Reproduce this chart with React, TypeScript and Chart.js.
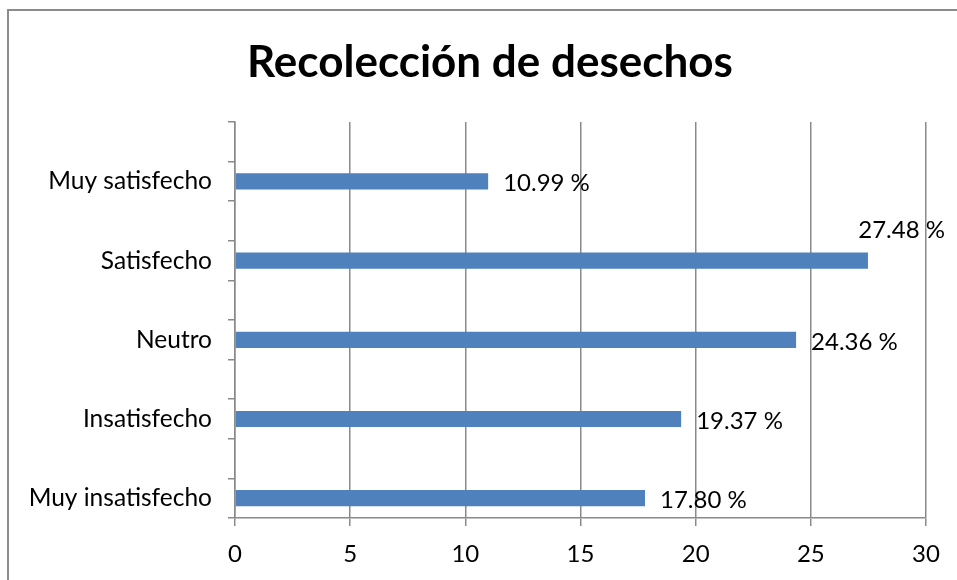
import React, { useEffect, useRef } from "react";
import { Chart, registerables } from "chart.js";

Chart.register(...registerables);

const TITLE = "Recolección de desechos";
const categories = ["Muy satisfecho", "Satisfecho", "Neutro", "Insatisfecho", "Muy insatisfecho"];
const percentages = [10.99, 27.48, 24.36, 19.37, 17.8];
const xTicks = [0, 5, 10, 15, 20, 25, 30];

const FONT = "Lato";
const GRID = "#8a8a8a";

const labels: string[] = [];
const values: (number | null)[] = [];
categories.forEach((c, i) => {
  labels.push("");
  values.push(null);
  labels.push(c);
  values.push(percentages[i]);
});

const titlePlugin = {
  id: "customTitle",
  afterDraw(chart: any) {
    const ctx = chart.ctx;
    ctx.save();
    ctx.font = `bold 44px ${FONT}`;
    ctx.fillStyle = "#000";
    ctx.textAlign = "center";
    ctx.textBaseline = "middle";
    ctx.fillText(TITLE, 490, 63);
    ctx.restore();
  },
};

const valueLabels = {
  id: "valueLabels",
  afterDatasetsDraw(chart: any) {
    const ctx = chart.ctx;
    const meta = chart.getDatasetMeta(0);
    ctx.save();
    ctx.font = `24px ${FONT}`;
    ctx.fillStyle = "#000";
    ctx.textBaseline = "middle";
    meta.data.forEach((bar: any, i: number) => {
      const v = values[i];
      if (v == null) return;
      const text = v.toFixed(2) + " %";
      const w = ctx.measureText(text).width;
      let x = bar.x + 15;
      let y = bar.y + 2;
      if (x + w > chart.width - 10) {
        x = chart.width - 12 - w;
        y = bar.y - 30;
      }
      ctx.textAlign = "left";
      ctx.fillText(text, x, y);
    });
    ctx.restore();
  },
};

export default function App() {
  const ref = useRef<HTMLCanvasElement | null>(null);
  useEffect(() => {
    if (!ref.current) return;
    const chart = new Chart(ref.current, {
      type: "bar",
      data: {
        labels,
        datasets: [
          {
            data: values as any,
            backgroundColor: "#4f81bd",
            borderWidth: 0,
            categoryPercentage: 1,
            barPercentage: 0.41,
          },
        ],
      },
      options: {
        indexAxis: "y",
        animation: false,
        responsive: false,
        layout: { padding: { top: 122, right: 31, bottom: 0, left: 0 } },
        plugins: {
          legend: { display: false },
          title: { display: false },
          tooltip: { enabled: false },
        },
        scales: {
          x: {
            min: 0,
            max: 30,
            afterBuildTicks(scale: any) {
              scale.ticks = xTicks.map((v) => ({ value: v }));
            },
            afterFit(scale: any) {
              scale.height = 62;
            },
            grid: {
              color: GRID,
              lineWidth: 1.5,
              tickLength: 8,
              drawTicks: true,
            },
            border: { color: GRID, width: 1.5 },
            ticks: {
              color: "#000",
              font: { family: FONT, size: 24 },
              padding: 14,
              maxRotation: 0,
            },
          },
          y: {
            offset: true,
            afterFit(scale: any) {
              scale.width = 235;
            },
            grid: {
              offset: true,
              drawOnChartArea: false,
              drawTicks: true,
              tickLength: 7,
              color: GRID,
              lineWidth: 1.5,
            },
            border: { color: GRID, width: 1.5 },
            ticks: {
              color: "#000",
              font: { family: FONT, size: 24.5 },
              padding: 16,
              autoSkip: false,
            },
          },
        },
      },
      plugins: [titlePlugin, valueLabels],
    });
    return () => chart.destroy();
  }, []);

  return (
    <div style={{ position: "fixed", left: 0, top: 0, width: 957, height: 580, overflow: "hidden", background: "#fff" }}>
      <canvas ref={ref} width={957} height={580} style={{ position: "absolute", left: 0, top: 0 }} />
      <div
        style={{
          position: "absolute",
          left: 7,
          top: 9,
          width: 980,
          height: 600,
          border: "2px solid #8c8c8c",
          boxSizing: "border-box",
          pointerEvents: "none",
        }}
      />
    </div>
  );
}
